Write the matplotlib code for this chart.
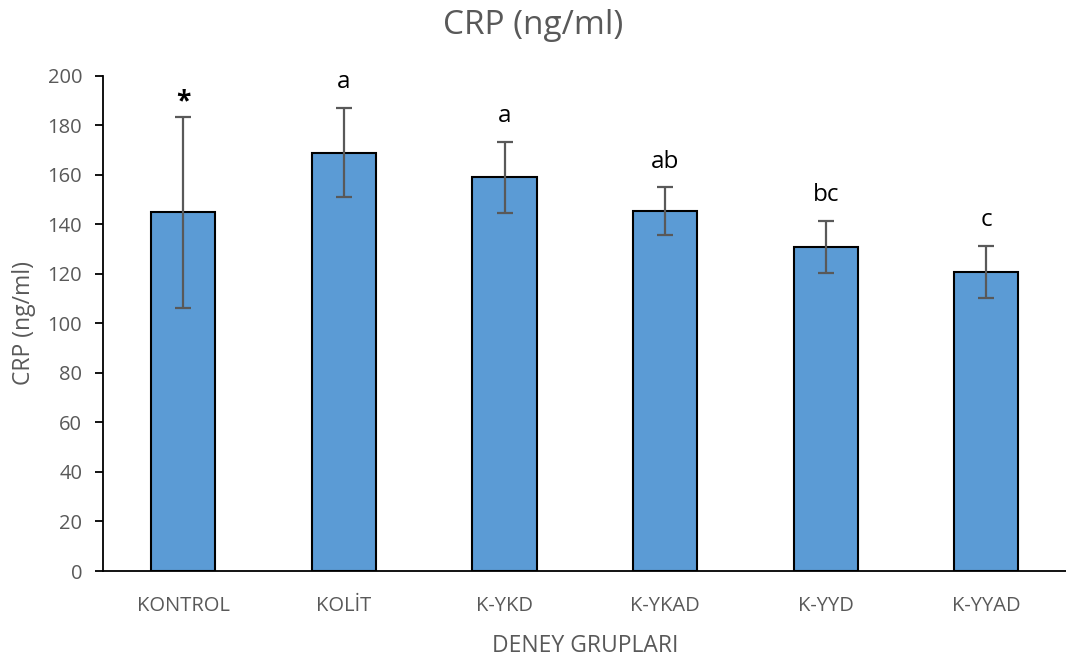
import matplotlib
matplotlib.use("Agg")
import matplotlib.pyplot as plt
import numpy as np

plt.rcParams['font.family'] = ['Open Sans', 'DejaVu Sans']

# group means, standard deviations and significance letters
groups = ['KONTROL', 'KOLİT', 'K-YKD', 'K-YKAD', 'K-YYD', 'K-YYAD']
crp_mean = [144.8, 168.9, 158.9, 145.3, 130.9, 120.6]
crp_sd = [38.5, 18.0, 14.2, 9.6, 10.4, 10.5]
letters = ['*', 'a', 'a', 'ab', 'bc', 'c']

grey = '#595959'

fig = plt.figure(figsize=(10.66, 6.6), dpi=100)
ax = fig.add_axes([0.0966, 0.1348, 0.904, 0.7505])

x = np.arange(len(groups))
ax.bar(x, crp_mean, width=0.4, color='#5B9BD5', edgecolor='black', linewidth=1.5, zorder=2)
ax.errorbar(x, crp_mean, yerr=crp_sd, fmt='none', ecolor=grey, elinewidth=1.6,
            capsize=6, capthick=1.6, zorder=3)

# significance letters above the error bars
for xi, m, s, lab in zip(x, crp_mean, crp_sd, letters):
    if lab == '*':
        ax.annotate(lab, (xi, m + s), xytext=(0, 1), textcoords='offset points',
                    ha='center', va='bottom', fontsize=19, fontweight='bold', color='black')
    else:
        ax.annotate(lab, (xi, m + s), xytext=(0, 10), textcoords='offset points',
                    ha='center', va='bottom', fontsize=17.5, color='black')

ax.set_xlim(-0.5, 5.5)
ax.set_ylim(0, 200)
ax.set_yticks(np.arange(0, 201, 20))
ax.set_xticks(x)
ax.set_xticklabels(groups)

for side in ['top', 'right']:
    ax.spines[side].set_visible(False)
ax.spines['left'].set_linewidth(1.3)
ax.spines['bottom'].set_linewidth(1.3)
ax.tick_params(axis='y', direction='out', length=6, width=1.3, labelsize=14.5,
               labelcolor=grey, pad=9)
ax.tick_params(axis='x', length=0, labelsize=14.5, labelcolor=grey, pad=18)

ax.set_xlabel('DENEY GRUPLARI', fontsize=16.5, color=grey, labelpad=13)
ax.set_ylabel('CRP (ng/ml)', fontsize=16.5, color=grey, labelpad=8)
fig.text(0.5, 0.961, 'CRP (ng/ml)', ha='center', va='center', fontsize=24, color=grey)

fig.savefig('out.png', dpi=100)
